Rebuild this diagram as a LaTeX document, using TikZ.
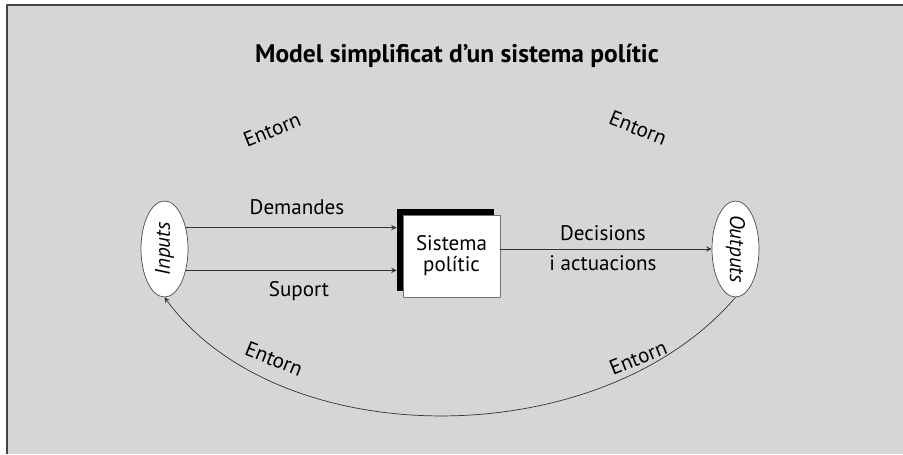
\documentclass[tikz,border=0pt]{standalone}
\usepackage{fontspec}
\setmainfont{PT Sans}
\usetikzlibrary{shapes.geometric,shadows}
\definecolor{fons}{HTML}{D6D6D6}
\definecolor{vora}{HTML}{444444}
\begin{document}
\begin{tikzpicture}[x=0.02cm,y=-0.02cm,>=stealth,font=\fontsize{12}{14}\selectfont,line join=round,line cap=round]
	%%%%Estils
	\tikzset{el/.style={draw=black!70,fill=white,ellipse,inner sep=0pt,minimum width=0.94cm,minimum height=1.92cm},
		caixa/.style={draw=black!55,fill=white,inner sep=0pt,minimum width=1.94cm,minimum height=1.64cm,align=center,
			general shadow={fill=black,shadow xshift=-0.12cm,shadow yshift=0.12cm}},
		fletxa/.style={->,draw=black!80,thin},
		etiq/.style={inner sep=1pt}}
	%%%%Fons
	\useasboundingbox (0,0) rectangle (903,454);
	\fill[fons] (7,5) rectangle (903,454);
	\draw[vora,line width=1.2pt,line cap=butt] (7,454) -- (7,5) -- (903,5);
	\node[font=\fontsize{14.5}{16}\selectfont\bfseries] (titol) at (457,56) {Model simplificat d’un sistema polític};
	%%%%Nodes
	\node[el] (inp) at (164.5,249) {\rotatebox{90}{\itshape Inputs}};
	\node[el] (out) at (735.5,249) {\rotatebox{-90}{\itshape Outputs}};
	\node[caixa] (sis) at (451.5,256) {Sistema\\[-2pt]polític};
	%%%%Fletxes
	\draw[fletxa] (inp.45) -- ([xshift=-0.12cm]sis.west |- inp.45);
	\draw[fletxa] (inp.-45) -- ([xshift=-0.12cm]sis.west |- inp.-45);
	\draw[fletxa] (sis.east |- out.west) -- (out.west);
	\draw[fletxa] (out.south) .. controls (600,455) and (280,455) .. (inp.south);
	%%%%Etiquetes
	\node[etiq] (dem) at (297,207) {Demandes};
	\node[etiq] (sup) at (299,291) {Suport};
	\node[etiq] (dec) at (603,233) {Decisions};
	\node[etiq] (act) at (603,263) {i actuacions};
	\node[etiq,rotate=22] (ent1) at (272,130) {Entorn};
	\node[etiq,rotate=-22] (ent2) at (638,128) {Entorn};
	\node[etiq,rotate=-22] (ent3) at (274,359) {Entorn};
	\node[etiq,rotate=22] (ent4) at (638,358) {Entorn};
\end{tikzpicture}
\end{document}
